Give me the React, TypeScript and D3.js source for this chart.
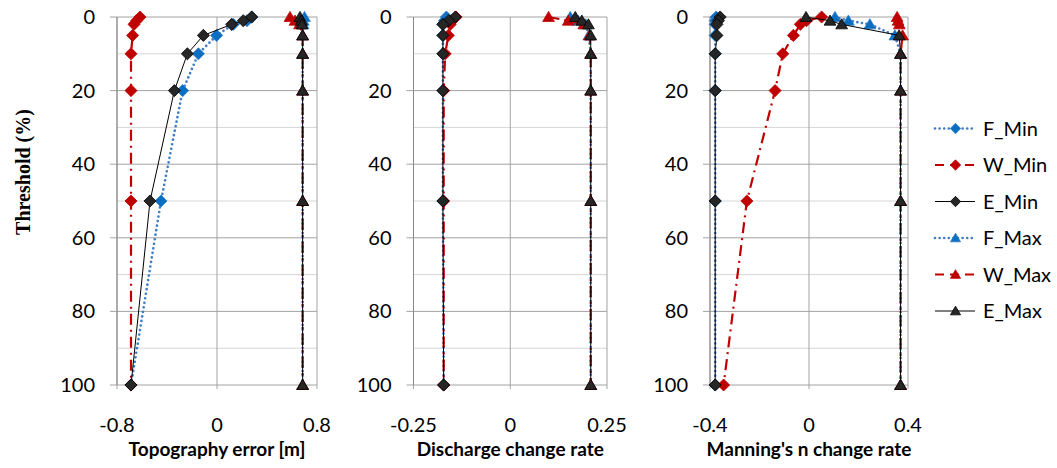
import React from 'react';
import * as d3 from 'd3';

// ---------- data ----------
const thresholds = [0, 1, 2, 5, 10, 20, 50, 100];
const yTicks = [0, 20, 40, 60, 80, 100];
const yMinorGrid = [10, 30, 50, 70, 90];
const seriesNames = ['F_Min', 'W_Min', 'E_Min', 'F_Max', 'W_Max', 'E_Max'];

// Panel 1: Topography error [m]
const topoFMin = [0.28, 0.24, 0.13, -0.003, -0.149, -0.275, -0.448, -0.688];
const topoWMin = [-0.616, -0.643, -0.664, -0.675, -0.688, -0.688, -0.688, -0.688];
const topoEMin = [0.277, 0.21, 0.117, -0.109, -0.237, -0.341, -0.536, -0.688];
const topoFMax = [0.7, 0.69, 0.688, 0.685, 0.685, 0.685, 0.685, 0.685];
const topoWMax = [0.584, 0.624, 0.66, 0.685, 0.685, 0.685, 0.685, 0.685];
const topoEMax = [0.664, 0.675, 0.68, 0.685, 0.685, 0.685, 0.685, 0.685];

// Panel 2: Discharge change rate
const dischFMin = [-0.165, -0.17, -0.174, -0.174, -0.174, -0.174, -0.174, -0.172];
const dischWMin = [-0.14, -0.15, -0.155, -0.16, -0.168, -0.172, -0.172, -0.172];
const dischEMin = [-0.142, -0.159, -0.174, -0.174, -0.174, -0.174, -0.174, -0.172];
const dischFMax = [0.155, 0.175, 0.195, 0.203, 0.208, 0.208, 0.208, 0.208];
const dischWMax = [0.099, 0.15, 0.19, 0.205, 0.208, 0.208, 0.208, 0.208];
const dischEMax = [0.168, 0.185, 0.202, 0.208, 0.208, 0.208, 0.208, 0.208];

// Panel 3: Manning's n change rate
const mannFMin = [-0.375, -0.378, -0.379, -0.379, -0.379, -0.379, -0.379, -0.379];
const mannWMin = [0.051, -0.01, -0.035, -0.063, -0.106, -0.137, -0.251, -0.345];
const mannEMin = [-0.359, -0.366, -0.372, -0.372, -0.379, -0.379, -0.379, -0.379];
const mannFMax = [0.105, 0.159, 0.246, 0.347, 0.37, 0.37, 0.37, 0.37];
const mannWMax = [0.356, 0.36, 0.365, 0.378, 0.37, 0.37, 0.37, 0.37];
const mannEMax = [-0.012, 0.085, 0.132, 0.364, 0.37, 0.37, 0.37, 0.37];

const panelTitles = ['Topography error [m]', 'Discharge change rate', "Manning's n change rate"];
const panelLimits = [0.8, 0.25, 0.4];
const panelTickLabels = [['-0.8', '0', '0.8'], ['-0.25', '0', '0.25'], ['-0.4', '0', '0.4']];
const panelSeries = [
  [topoFMin, topoWMin, topoEMin, topoFMax, topoWMax, topoEMax],
  [dischFMin, dischWMin, dischEMin, dischFMax, dischWMax, dischEMax],
  [mannFMin, mannWMin, mannEMin, mannFMax, mannWMax, mannEMax],
];

// ---------- layout / style ----------
const panelX: [number, number][] = [[117, 317], [413.5, 607], [710, 908]];
const plotTop = 17;
const plotBottom = 385;
const font = "Lato, 'Open Sans', 'Noto Sans', sans-serif";

type Style = { color: string; width: number; dash?: string; cap: 'round' | 'butt'; fill: string; stroke: string };
const styleFor = (name: string): Style => {
  if (name.startsWith('F')) return { color: '#3E7DC8', width: 2.7, dash: '0 4.6', cap: 'round', fill: '#0A6FC2', stroke: '#2D7BC6' };
  if (name.startsWith('W')) return { color: '#C00000', width: 2.2, dash: '11 5 2 5', cap: 'butt', fill: '#C00000', stroke: '#C00000' };
  return { color: '#000000', width: 1, cap: 'butt', fill: '#262626', stroke: '#000000' };
};

const diamond = (cx: number, cy: number, r: number) =>
  `M${cx},${cy - r}L${cx + r},${cy}L${cx},${cy + r}L${cx - r},${cy}Z`;
const triangle = (cx: number, cy: number, r: number) =>
  `M${cx},${cy - r}L${cx + r * 1.05},${cy + r * 0.8}L${cx - r * 1.05},${cy + r * 0.8}Z`;
const marker = (name: string, cx: number, cy: number, r: number) =>
  name.endsWith('Min') ? diamond(cx, cy, r * 1.08) : triangle(cx, cy, r);

const yScale = d3.scaleLinear().domain([0, 100]).range([plotTop, plotBottom]);

function Panel({ idx }: { idx: number }) {
  const [x0, x1] = panelX[idx];
  const lim = panelLimits[idx];
  const x = d3.scaleLinear().domain([-lim, lim]).range([x0, x1]);
  const xTickVals = [-lim, 0, lim];
  const line = d3
    .line<number>()
    .x((d) => x(d))
    .y((_, i) => yScale(thresholds[i]));
  return (
    <g>
      {yMinorGrid.map((t) => (
        <line key={'mg' + t} x1={x0} x2={x1} y1={yScale(t)} y2={yScale(t)} stroke="#D6D6D6" strokeWidth={1} />
      ))}
      {yTicks.map((t) => (
        <line key={'g' + t} x1={x0 - 7} x2={x1} y1={yScale(t)} y2={yScale(t)} stroke="#A3A3A3" strokeWidth={1} />
      ))}
      {xTickVals.map((v, i) => (
        <line key={'vx' + i} x1={x(v)} x2={x(v)} y1={plotTop} y2={plotBottom + 4} stroke="#A3A3A3" strokeWidth={1} />
      ))}
      <line x1={x0} x2={x0} y1={plotTop} y2={plotBottom} stroke="#888888" strokeWidth={1} />
      {yTicks.map((t) => (
        <text key={'yl' + t} x={x0 - 22} y={yScale(t) + 7} textAnchor="end" fontFamily={font} fontSize={20} fill="#000">
          {t}
        </text>
      ))}
      {xTickVals.map((v, i) => (
        <text key={'xl' + i} x={x(v)} y={432} textAnchor="middle" fontFamily={font} fontSize={20} fill="#000">
          {panelTickLabels[idx][i]}
        </text>
      ))}
      <text x={(x0 + x1) / 2} y={456} textAnchor="middle" fontFamily={font} fontWeight="bold" fontSize={19} fill="#000">
        {panelTitles[idx]}
      </text>
      {panelSeries[idx].map((vals, si) => {
        const name = seriesNames[si];
        const st = styleFor(name);
        return (
          <g key={name}>
            <path d={line(vals) || ''} fill="none" stroke={st.color} strokeWidth={st.width} strokeDasharray={st.dash} strokeLinecap={st.cap} />
            {vals.map((v, i) => (
              <path key={i} d={marker(name, x(v), yScale(thresholds[i]), 5.6)} fill={st.fill} stroke={st.stroke} strokeWidth={0.8} />
            ))}
          </g>
        );
      })}
    </g>
  );
}

const legendY = d3.scalePoint<string>().domain(seriesNames).range([128.5, 311]);

export default function App() {
  return (
    <svg width={1057} height={468} style={{ position: 'absolute', left: 0, top: 0, background: '#fff' }}>
      <rect width={1057} height={468} fill="#fff" />
      {[0, 1, 2].map((i) => (
        <Panel key={i} idx={i} />
      ))}
      <text
        transform={`translate(23,172) rotate(-90)`}
        textAnchor="middle"
        dominantBaseline="central"
        fontFamily="'Liberation Serif', 'Times New Roman', serif"
        fontWeight="bold"
        fontSize={20}
        fill="#000"
      >
        Threshold (%)
      </text>
      {seriesNames.map((name) => {
        const st = styleFor(name);
        const y = legendY(name) as number;
        return (
          <g key={name}>
            <line x1={935} x2={975} y1={y} y2={y} stroke={st.color} strokeWidth={st.width} strokeDasharray={name.startsWith('W') ? '9 6' : st.dash} strokeLinecap={st.cap} />
            <path d={marker(name, 955.5, y, 4.8)} fill={st.fill} stroke={st.stroke} strokeWidth={0.8} />
            <text x={983} y={y + 7} fontFamily={font} fontSize={20} fill="#000">
              {name}
            </text>
          </g>
        );
      })}
    </svg>
  );
}
